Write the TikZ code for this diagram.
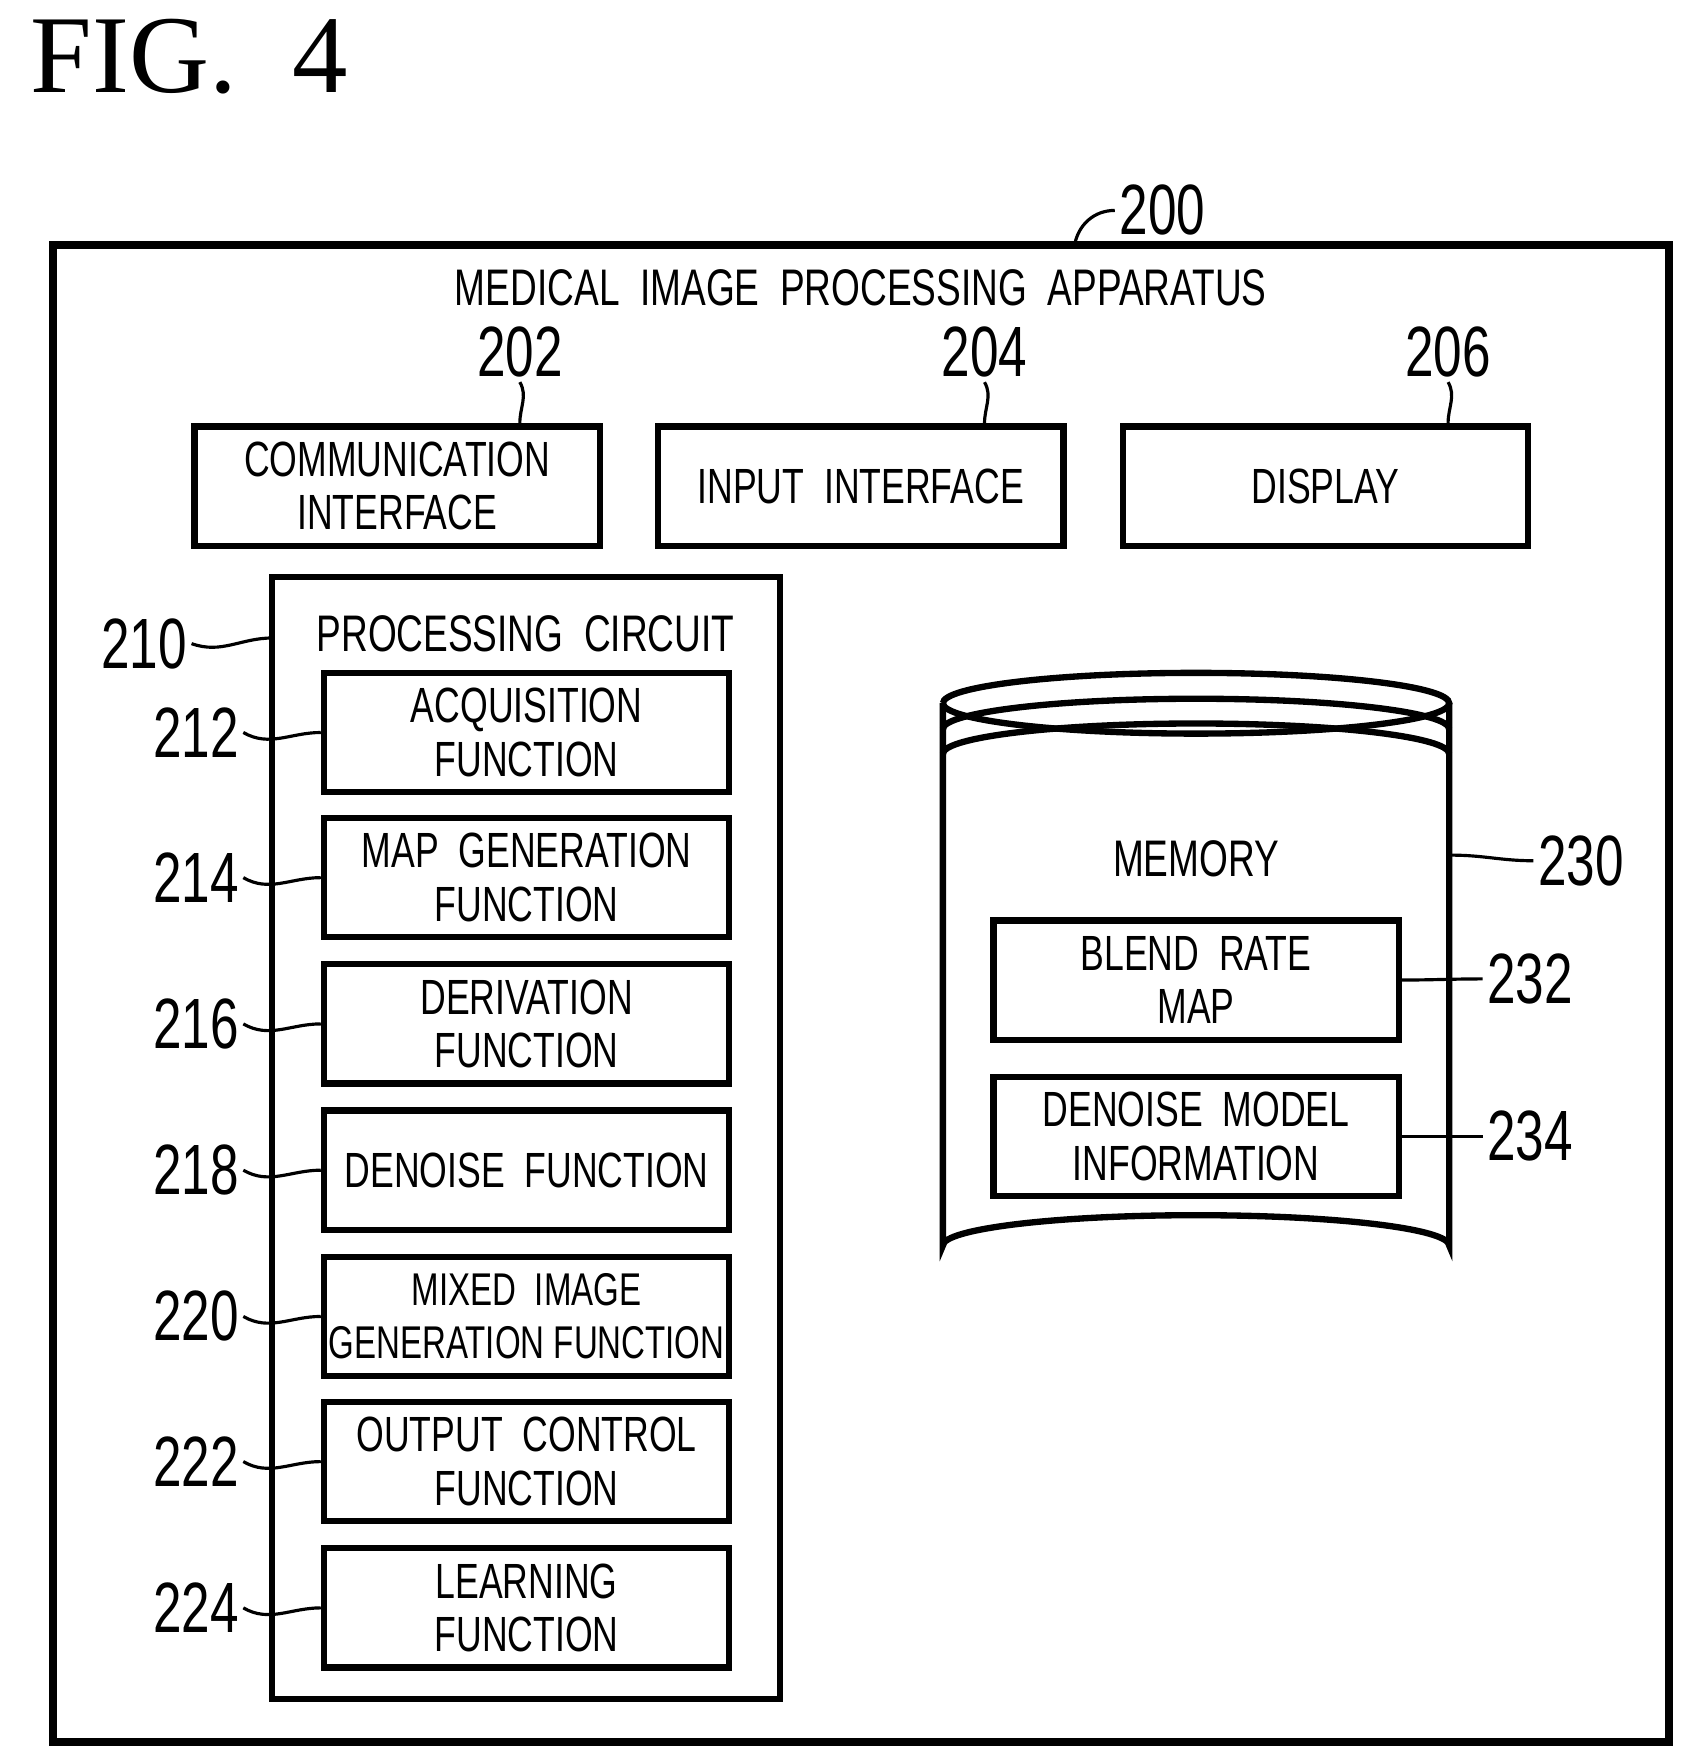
\documentclass[tikz,border=0pt]{standalone}
\usepackage{fontspec}
\setmainfont{Liberation Sans}[FakeStretch=0.72]
\newfontfamily\figfont{Liberation Serif}
\usetikzlibrary{positioning}
\tikzset{
  blk/.style={draw, line width=1.6pt, minimum width=3.6cm, minimum height=1.06cm,
    align=center, font=\fontsize{12.5}{13.5}\selectfont, inner sep=1pt},
  narrow/.style={font=\fontsize{11.6}{13.5}\selectfont},
  num/.style={font=\fontsize{18}{18}\selectfont, inner sep=1pt},
  lead/.style={line width=0.8pt}
}
\begin{document}
\begin{tikzpicture}[x=0.01cm,y=-0.01cm]
  \useasboundingbox (0,0) rectangle (1503,1566);

  % figure title
  \node[font=\figfont\fontsize{28}{28}\selectfont, anchor=west] (fig) at (15,50) {FIG.~~4};

  % apparatus frame
  \draw[line width=2pt] (47,218) rectangle (1483,1548);
  \node[font=\fontsize{13}{15}\selectfont] (title) at (765,256) {MEDICAL~~IMAGE~~PROCESSING~~APPARATUS};
  \node[num] (n200) at (1033,187) {200};
  \draw[lead] (955,218) to[out=80,in=180] (n200.west);

  % interface row
  \node[blk] (comm) at (353,432) {COMMUNICATION\\INTERFACE};
  \node[blk] (input) at (765,432) {INPUT~~INTERFACE};
  \node[blk] (disp) at (1178,432) {DISPLAY};
  \foreach \b/\n/\x in {comm/202/462, input/204/875, disp/206/1287}{
    \node[num] (n\n) at (\x,313) {\n};
    \draw[lead] (n\n.south) to[out=-60,in=90] (\b.north -| n\n.south);
  }

  % processing circuit
  \draw[line width=1.6pt] (242,513) rectangle (693,1510);
  \node[font=\fontsize{13}{15}\selectfont] (pc) at (467,563) {PROCESSING~~CIRCUIT};
  \node[num] (n210) at (128,572) {210};
  \coordinate (pcl) at (242,567);
  \draw[lead] (n210.east) to[out=-20,in=180] (pcl);
  \foreach \y/\n/\o/\t in {651/212//ACQUISITION\\FUNCTION, 780/214//MAP~~GENERATION\\FUNCTION,
      910/216//DERIVATION\\FUNCTION, 1040/218//DENOISE~~FUNCTION,
      1170/220/narrow/MIXED~~IMAGE\\GENERATION~FUNCTION, 1299/222//OUTPUT~~CONTROL\\FUNCTION,
      1429/224//LEARNING\\FUNCTION}{
    \node[blk,\o] (f\n) at (468,\y) {\t};
    \node[num] (n\n) at (174,\y) {\n};
    \draw[lead] (n\n.east) to[out=-30,in=180] (f\n.west);
  }

  % memory cylinder
  \draw[line width=1.6pt] (838,625) arc[start angle=180,end angle=360,x radius=225,y radius=27]
    arc[start angle=0,end angle=180,x radius=225,y radius=27];
  \draw[line width=1.6pt] (838,648) arc[start angle=180,end angle=360,x radius=225,y radius=27];
  \draw[line width=1.6pt] (838,670) arc[start angle=180,end angle=360,x radius=225,y radius=27];
  \draw[line width=1.6pt] (838,625) -- (838,1107) arc[start angle=180,end angle=360,x radius=225,y radius=27] -- (1288,625);
  \node[font=\fontsize{13}{15}\selectfont] (mem) at (1063,763) {MEMORY};
  \node[num] (n230) at (1405,765) {230};
  \coordinate (meml) at (1290,760);
  \draw[lead] (meml) to[out=0,in=180] (n230.west);
  \node[blk] (blend) at (1063,871) {BLEND~~RATE\\MAP};
  \node[blk] (model) at (1063,1010) {DENOISE~~MODEL\\INFORMATION};
  \node[num] (n232) at (1360,870) {232};
  \node[num] (n234) at (1360,1010) {234};
  \draw[lead] (blend.east) to[out=0,in=180] (n232.west);
  \draw[lead] (model.east) to[out=0,in=180] (n234.west);
\end{tikzpicture}
\end{document}
